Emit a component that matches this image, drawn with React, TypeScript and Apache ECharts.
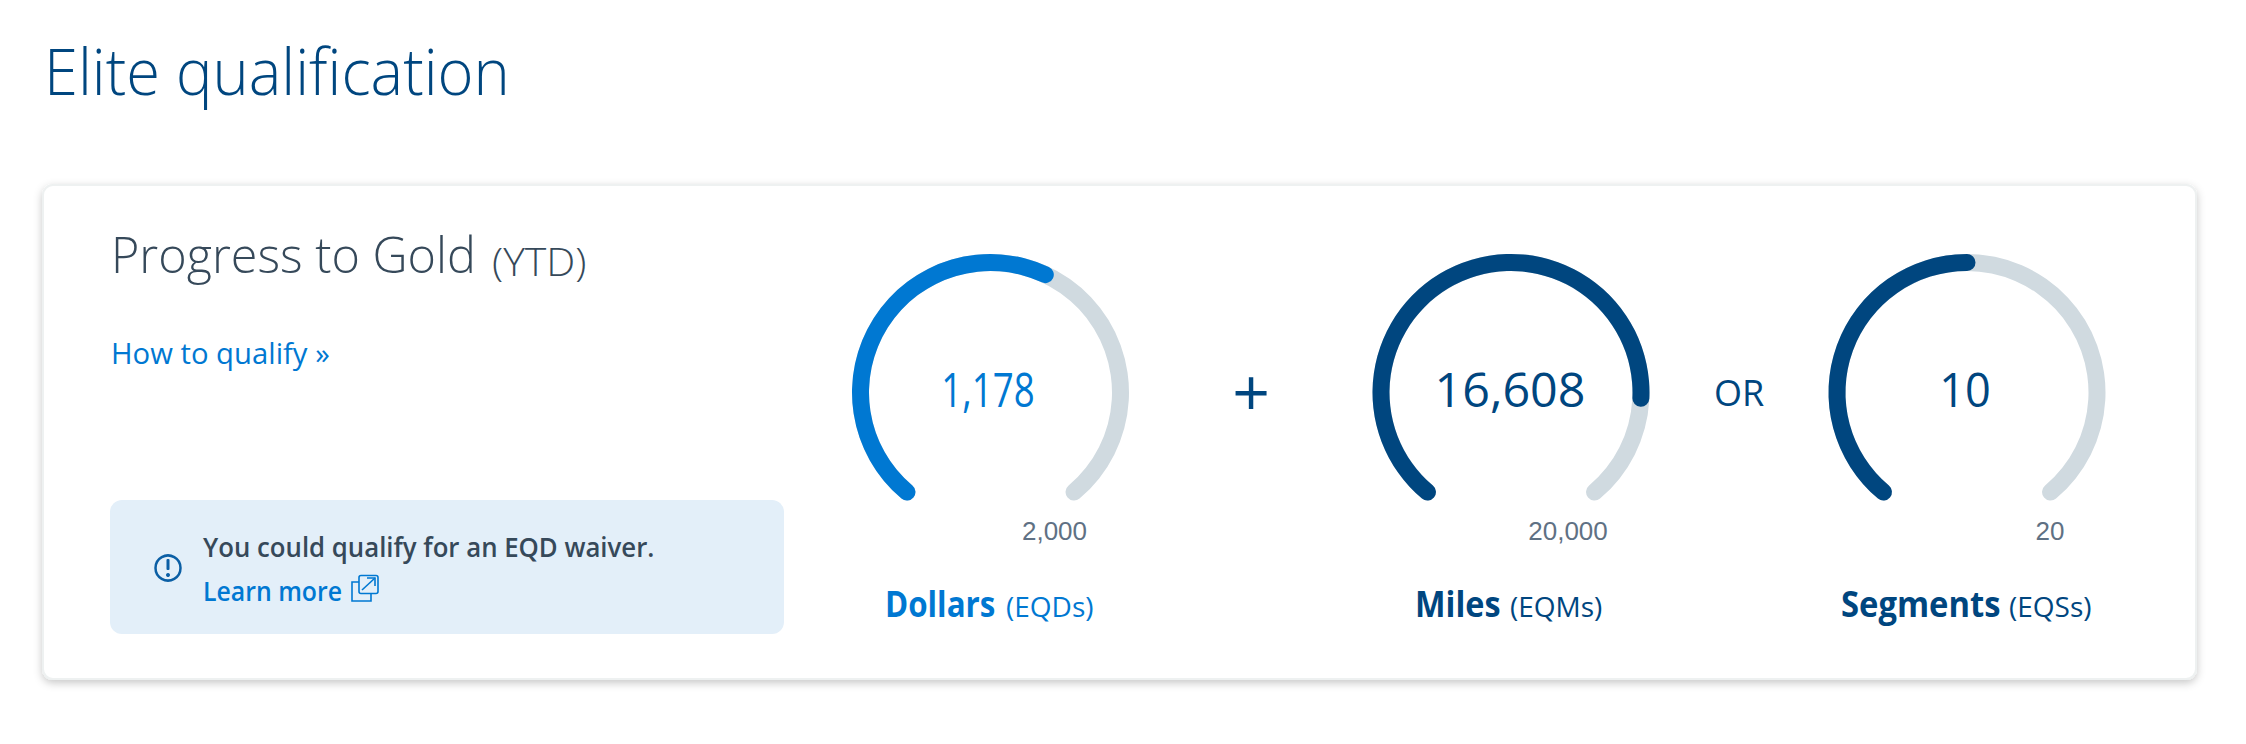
import React, { useEffect, useRef } from "react";
import * as echarts from "echarts";

const gaugeValues = [1178, 16608, 10];
const gaugeMaxes = [2000, 20000, 20];
const gaugeColors = ["#0078d2", "#00467f", "#00467f"];
const gaugeCenters = [990.5, 1511, 1967];
const valueX = [988, 1510, 1965];
const valueScale = [0.78, 1.03, 0.96];
const maxLabels = ["2,000", "20,000", "20"];
const maxLabelX = [1054.5, 1568, 2050];
const metricNames = ["Dollars", "Miles", "Segments"];
const metricCodes = ["(EQDs)", "(EQMs)", "(EQSs)"];
const nameX = [885, 1415, 1841];
const nameScale = [0.87, 0.9, 0.91];
const codeX = [1006, 1510, 2009];

const FONT = '"Open Sans", sans-serif';
const navy = "#00467f";
const blue = "#0078d2";
const slate = "#36495a";

const t = (text: string, x: number, y: number, font: string, fill: string, textAlign = "left", scaleX = 1) => ({
  type: "text",
  z: 5,
  x,
  y,
  scaleX,
  style: { text, x: 0, y: 0, font, fill, textAlign, textVerticalAlign: "middle" },
});

export default function App() {
  const ref = useRef<HTMLDivElement>(null);
  useEffect(() => {
    const chart = echarts.init(ref.current!, null, { renderer: "svg" });
    const series = gaugeValues.map((value, i) => ({
      type: "gauge",
      center: [gaugeCenters[i], 392.5],
      radius: 138.5,
      startAngle: 230,
      endAngle: -50,
      min: 0,
      max: gaugeMaxes[i],
      axisLine: { roundCap: true, lineStyle: { width: 17, color: [[1, "#d0dae0"]] } },
      progress: { show: true, roundCap: true, width: 17, itemStyle: { color: gaugeColors[i] } },
      pointer: { show: false },
      axisTick: { show: false },
      splitLine: { show: false },
      axisLabel: { show: false },
      title: { show: false },
      detail: { show: false },
      data: [{ value }],
    }));
    const graphic: any[] = [
      {
        type: "rect",
        z: 1,
        shape: { x: 43, y: 185, width: 2153, height: 494, r: 10 },
        style: { fill: "#fff", stroke: "#eef1f1", lineWidth: 2, shadowBlur: 8, shadowColor: "rgba(0,0,0,0.22)", shadowOffsetY: 3 },
      },
      {
        type: "rect",
        z: 2,
        shape: { x: 110, y: 500, width: 674, height: 134, r: 12 },
        style: { fill: "#e3eff9" },
      },
      t("Elite qualification", 44, 70, `300 64px ${FONT}`, navy, "left", 0.96),
      t("Progress to Gold", 111, 254, `300 49px ${FONT}`, slate, "left", 0.99),
      t("(YTD)", 492, 262, `300 38px ${FONT}`, slate, "left", 1.08),
      t("How to qualify »", 111, 353, `400 29px ${FONT}`, blue, "left", 1.01),
      t("You could qualify for an EQD waiver.", 203, 547, `600 27px ${FONT}`, slate, "left", 0.955),
      t("Learn more", 203, 591, `600 27px ${FONT}`, blue, "left", 0.92),
      t("+", 1251, 390, `400 66px ${FONT}`, navy, "center"),
      t("OR", 1739, 392, `400 36px ${FONT}`, navy, "center"),
      {
        type: "circle",
        z: 3,
        shape: { cx: 168, cy: 568, r: 12.5 },
        style: { fill: "none", stroke: "#0b5fa5", lineWidth: 2.5 },
      },
      { type: "rect", z: 3, shape: { x: 166.5, y: 559, width: 3, height: 11, r: 1 }, style: { fill: "#0b5fa5" } },
      { type: "circle", z: 3, shape: { cx: 168, cy: 575, r: 2 }, style: { fill: "#0b5fa5" } },
      { type: "rect", z: 3, shape: { x: 359, y: 575.5, width: 19, height: 18, r: 2 }, style: { fill: "#e3eff9", stroke: blue, lineWidth: 1.6 } },
      { type: "polyline", z: 3, shape: { points: [[359, 582], [352, 582], [352, 601], [371, 601], [371, 594]] }, style: { fill: "none", stroke: blue, lineWidth: 1.6 } },
      { type: "line", z: 3, shape: { x1: 362, y1: 590, x2: 375, y2: 578 }, style: { stroke: blue, lineWidth: 1.6 } },
      { type: "polyline", z: 3, shape: { points: [[367, 578], [375, 578], [375, 586]] }, style: { fill: "none", stroke: blue, lineWidth: 1.6 } },
    ];
    gaugeValues.forEach((value, i) => {
      graphic.push(t(value.toLocaleString("en-US"), valueX[i], 389, `400 47px ${FONT}`, gaugeColors[i], "center", valueScale[i]));
      graphic.push(t(maxLabels[i], maxLabelX[i], 531, '400 26px "Liberation Sans", sans-serif', "#5f7184", "center"));
      graphic.push(t(metricNames[i], nameX[i], 603, `700 36px ${FONT}`, gaugeColors[i], "left", nameScale[i]));
      graphic.push(t(metricCodes[i], codeX[i], 606, `400 28px ${FONT}`, gaugeColors[i]));
    });
    chart.setOption({ animation: false, backgroundColor: "#ffffff", series, graphic });
    return () => chart.dispose();
  }, []);
  return <div ref={ref} style={{ position: "absolute", left: 0, top: 0, width: 2246, height: 744 }} />;
}
